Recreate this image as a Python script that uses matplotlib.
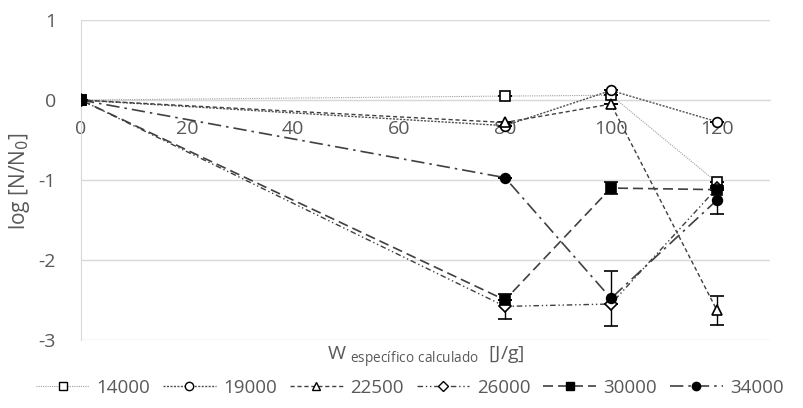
import matplotlib
matplotlib.use('Agg')
import matplotlib.pyplot as plt
from matplotlib.lines import Line2D

# data
w = [0, 80, 100, 120]
series_names = ['14000', '19000', '22500', '26000', '30000', '34000']
log_n = {
    '14000': [0, 0.05, 0.06, -1.03],
    '19000': [0, -0.32, 0.12, -0.27],
    '22500': [0, -0.28, -0.05, -2.63],
    '26000': [0, -2.58, -2.55, -1.10],
    '30000': [0, -2.50, -1.10, -1.12],
    '34000': [0, -0.97, -2.48, -1.25],
}
err = {
    '14000': [0, 0, 0, 0],
    '19000': [0, 0, 0, 0],
    '22500': [0, 0, 0, 0.18],
    '26000': [0, 0.16, 0, 0],
    '30000': [0, 0, 0.07, 0],
    '34000': [0, 0, 0.34, 0.17],
}

styles = {
    '14000': dict(marker='s', mfc='white', ls=(0, (1, 1)), color='#a0a0a0', lw=0.8),
    '19000': dict(marker='o', mfc='white', ls=(0, (1.5, 1)), color='#505050', lw=1.0),
    '22500': dict(marker='^', mfc='white', ls=(0, (3, 2)), color='#404040', lw=1.0),
    '26000': dict(marker='D', mfc='white', ls=(0, (4, 2, 1, 2, 1, 2)), color='#404040', lw=1.0, ms=6),
    '30000': dict(marker='s', mfc='black', ls=(0, (6, 3)), color='#404040', lw=1.2),
    '34000': dict(marker='o', mfc='black', ls=(0, (8, 3, 1.5, 3)), color='#404040', lw=1.2),
}

plt.rcParams['font.family'] = ['Open Sans', 'DejaVu Sans']
plt.rcParams['axes.unicode_minus'] = False
fig = plt.figure(figsize=(8.04, 4.08), dpi=100)
ax = fig.add_axes([0.1007, 0.1667, 0.857, 0.784])

for name in series_names:
    st = dict(styles[name])
    ms = st.pop('ms', 7)
    mfc = st.pop('mfc')
    color = st.pop('color')
    ax.errorbar(w, log_n[name], yerr=err[name], color=color, mec='black', mfc=mfc,
                ms=ms, mew=1.2, ecolor='black', elinewidth=1.0, capsize=5,
                label=name, zorder=3, **st)

ax.set_xlim(0, 130)
ax.set_ylim(-3, 1)
ax.set_xticks([0, 20, 40, 60, 80, 100, 120])
ax.set_yticks([-3, -2, -1, 0, 1])
ax.grid(axis='y', color='#d9d9d9', lw=1)
ax.set_axisbelow(True)
for s in ['top', 'right']:
    ax.spines[s].set_visible(False)
ax.spines['bottom'].set_position(('data', 0))
ax.spines['bottom'].set_color('#d9d9d9')
ax.spines['left'].set_color('#d9d9d9')
ax.tick_params(length=0, labelsize=14, labelcolor='#595959')
ax.tick_params(axis='y', pad=18)
ax.tick_params(axis='x', pad=14)

fig.text(0.024, 0.556, 'log [N/N$_0$]', rotation=90, ha='center', va='center',
         fontsize=15, color='#595959')
fig.text(0.53, 0.125, 'W $_{\\mathregular{específico\\ calculado}}$  [J/g]', ha='center', va='center',
         fontsize=14, color='#595959')

handles = []
for name in series_names:
    st = dict(styles[name])
    ms = st.pop('ms', 7)
    mfc = st.pop('mfc')
    color = st.pop('color')
    handles.append(Line2D([], [], color=color, mec='black', mfc=mfc, ms=ms - 1,
                          mew=1.0, label=name, **st))
leg = fig.legend(handles=handles, loc='center', bbox_to_anchor=(0.51, 0.05), ncol=6,
                 frameon=False, fontsize=13.5, handlelength=2.8, columnspacing=0.7,
                 handletextpad=0.4)
for t in leg.get_texts():
    t.set_color('#595959')

fig.savefig('out.png', dpi=100)
